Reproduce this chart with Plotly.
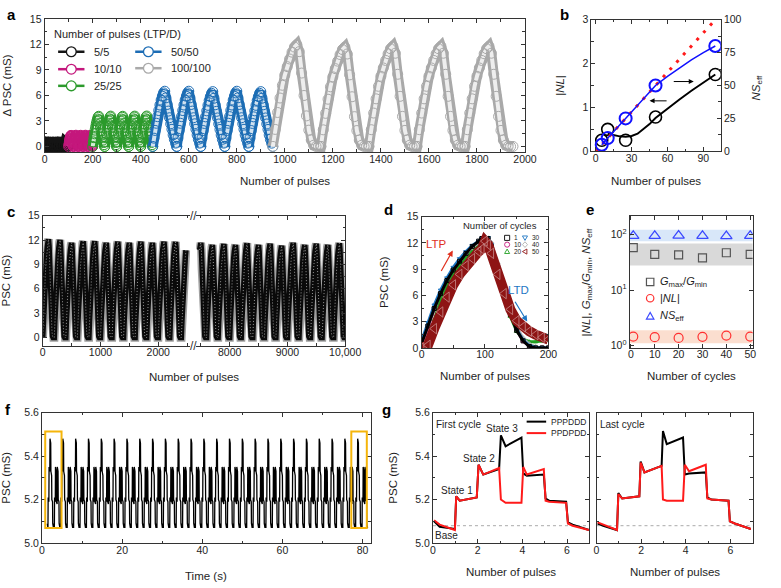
import plotly.graph_objects as go

W, H = 781, 588
FONT = "Liberation Sans, Arial, Helvetica, sans-serif"
TXT = "#1e1e1e"
LC = "#333333"


def PX(p):
    return p / W


def PY(p):
    return 1 - p / H


# ======================= DATA =======================
# (a) cycling with different numbers of pulses
A_LABELS = ["5/5", "10/10", "25/25", "50/50", "100/100"]
A_COLORS = ["#151515", "#c4177c", "#2c9a2c", "#1d6db5", "#a9a9a9"]
A_START = [0, 100, 200, 450, 950]
A_PULSES = [5, 10, 25, 50, 100]
A_PEAKS_55 = [0.50, 0.52, 0.50, 0.51, 0.50, 0.52, 0.50, 0.51, 0.52, 0.50]
A_PEAKS_1010 = [1.30, 1.32, 1.31, 1.32, 1.30]
A_PEAKS_2525 = [3.55, 3.57, 3.55, 3.57, 3.58]
A_PEAKS_5050 = [6.50, 6.50, 6.45, 6.50, 6.45]
A_PEAKS_100100 = [12.0, 11.7, 11.8, 11.8, 11.8]

# normalised LTP / LTD curve shapes read at 0,10,...,100 % of a phase
SHAPE_T = [0.0, 0.1, 0.2, 0.3, 0.4, 0.5, 0.6, 0.7, 0.8, 0.9, 1.0]
LTP_SHORT = [0.00, 0.15, 0.29, 0.42, 0.54, 0.65, 0.75, 0.84, 0.91, 0.97, 1.00]
LTD_SHORT = [1.00, 0.88, 0.76, 0.64, 0.52, 0.41, 0.31, 0.21, 0.13, 0.06, 0.00]
LTP_LONG = [0.00, 0.167, 0.333, 0.475, 0.60, 0.70, 0.783, 0.858, 0.925, 0.975, 1.00]
LTD_LONG = [1.00, 0.93, 0.72, 0.50, 0.30, 0.16, 0.064, 0.012, 0.00, 0.00, 0.00]

# (b) |NL| and NS_eff vs number of pulses
B_PULSES = [5, 10, 25, 50, 100]
B_NL = [0.25, 0.50, 0.25, 0.78, 1.75]
B_NS = [5, 10, 25, 50, 80]
B_NL_FIT_X = [10, 15, 20, 25, 30, 35, 40, 45, 50, 60, 70, 80, 90, 100]
B_NL_FIT = [0.40, 0.37, 0.34, 0.33, 0.35, 0.40, 0.50, 0.62, 0.76, 0.98, 1.18, 1.38, 1.57, 1.75]
B_NS_FIT_X = [5, 10, 25, 50, 60, 70, 80, 90, 100]
B_NS_FIT = [5, 10, 25, 50, 57, 63.5, 69.5, 75, 80]
B_IDEAL_X = [0, 100]
B_IDEAL = [0, 100]

# (c) 10,000 pulses endurance (peak of every 100/100 cycle)
C_LEFT_PEAKS = [12.1, 12.0, 11.65, 11.85, 11.85, 11.65, 11.8, 11.65, 11.8, 11.65, 11.8, 11.75]
C_LEFT_LAST = 11.6
C_RIGHT_PEAKS = [11.65, 11.4, 11.5, 11.4, 11.6, 11.4, 11.55, 11.3, 11.65, 11.4, 11.55, 11.4, 11.6]

# (d) LTP/LTD curves for selected cycles
D_X = [0, 10, 20, 30, 40, 50, 60, 70, 80, 90, 95, 100, 105, 110, 120, 130, 140, 150, 160, 170, 180, 190, 200]
D_C1 = [0.5, 2.5, 4.5, 6.2, 7.7, 8.9, 9.9, 10.8, 11.6, 12.2, 12.5, 12.5, 12.5, 11.6, 9.0, 6.2, 3.8, 2.0, 0.8, 0.15, 0.0, 0.0, 0.0]
D_C10 = [0.4, 2.4, 4.4, 6.1, 7.6, 8.8, 9.8, 10.7, 11.5, 12.1, 12.4, 12.4, 12.4, 11.5, 9.0, 6.2, 3.8, 2.0, 0.8, 0.2, 0.0, 0.0, 0.0]
D_C20 = [0.0, 0.4, 3.2, 5.4, 7.1, 8.4, 9.5, 10.4, 11.2, 11.8, 12.1, 12.3, 12.2, 11.3, 8.8, 6.0, 3.6, 1.9, 1.0, 0.7, 0.7, 0.8, 0.9]
D_C30 = [0.8, 2.9, 4.9, 6.6, 8.0, 9.2, 10.2, 11.0, 11.7, 12.2, 12.5, 12.6, 12.6, 11.8, 9.3, 6.5, 4.0, 2.1, 0.9, 0.25, 0.05, 0.0, 0.0]
D_C40 = [0.6, 2.6, 4.6, 6.3, 7.8, 9.0, 10.0, 10.8, 11.5, 12.0, 12.3, 12.4, 12.5, 12.0, 9.6, 6.8, 4.3, 2.4, 1.1, 0.4, 0.1, 0.0, 0.0]
D_C50 = [0.0, 0.3, 2.2, 4.1, 5.8, 7.2, 8.4, 9.4, 10.2, 11.0, 11.3, 12.2, 11.8, 10.8, 8.4, 6.2, 4.4, 3.1, 2.4, 1.9, 1.5, 1.2, 0.95]

# (e) figures of merit vs cycles
E_CYCLES = [1, 10, 20, 30, 40, 50]
E_GRATIO = [58, 44, 43, 38, 47, 44]
E_NL = [1.46, 1.42, 1.38, 1.44, 1.52, 1.46]
E_NS = [95, 95, 96, 95, 94, 95]
E_BAND_NS = [76, 122]
E_BAND_GR = [27.6, 69]
E_BAND_NL = [1.11, 1.89]

# (f) repeated PPPDDD + PPDPDD sequences
F_T0 = 1.3
F_PERIOD = 3.2
F_N_PERIODS = 25
F_ONSET = [5.09, 5.21, 5.35, 5.48, 5.33, 5.20, 5.09, 5.09, 5.21, 5.35, 5.19, 5.35, 5.20, 5.09]
F_SETTLE = [5.07, 5.19, 5.33, 5.46, 5.31, 5.19, 5.07, 5.07, 5.19, 5.33, 5.18, 5.33, 5.19, 5.07]

# (g) first and last cycle
G1_X = [0.05, 0.3, 0.98, 1.04, 1.2, 1.96, 2.04, 2.25, 2.96, 3.04, 3.25, 3.96, 4.04, 4.2, 4.96, 5.04, 5.2, 5.96, 6.04, 6.25, 6.98]
G1_BLACK = [5.10, 5.075, 5.065, 5.215, 5.195, 5.21, 5.36, 5.315, 5.34, 5.495, 5.445, 5.485, 5.32, 5.31, 5.315, 5.205, 5.195, 5.19, 5.095, 5.085, 5.06]
G1_RED = [5.105, 5.085, 5.06, 5.215, 5.195, 5.21, 5.36, 5.315, 5.345, 5.20, 5.185, 5.185, 5.35, 5.315, 5.34, 5.195, 5.19, 5.185, 5.09, 5.08, 5.06]
G2_X = [0.05, 0.3, 0.92, 0.98, 1.15, 1.92, 1.98, 2.15, 2.92, 2.98, 3.15, 3.88, 3.96, 4.15, 4.9, 4.97, 5.15, 5.92, 5.98, 6.2, 6.92]
G2_BLACK = [5.09, 5.08, 5.06, 5.23, 5.205, 5.215, 5.375, 5.325, 5.355, 5.515, 5.455, 5.485, 5.315, 5.32, 5.325, 5.21, 5.2, 5.195, 5.10, 5.09, 5.065]
G2_RED = [5.095, 5.085, 5.06, 5.225, 5.205, 5.215, 5.37, 5.325, 5.355, 5.20, 5.195, 5.195, 5.36, 5.33, 5.36, 5.205, 5.2, 5.195, 5.10, 5.09, 5.065]
G_BASE = 5.08

# ======================= HELPERS =======================
fig = go.Figure()


def add(**kw):
    kw.setdefault("showlegend", False)
    kw.setdefault("hoverinfo", "skip")
    fig.add_trace(go.Scatter(**kw))


def cycles(start, P, peaks, ltp, ltd):
    xs, ys = [], []
    for k, pk in enumerate(peaks):
        c0 = start + 2 * P * k
        for t, v in zip(SHAPE_T, ltp):
            xs.append(c0 + t * P)
            ys.append(pk * v)
        for t, v in zip(SHAPE_T[1:], ltd[1:]):
            xs.append(c0 + P + t * P)
            ys.append(pk * v)
    return xs, ys


# ======================= (a) =======================
a_peaks = [A_PEAKS_55, A_PEAKS_1010, A_PEAKS_2525, A_PEAKS_5050, A_PEAKS_100100]
for i in range(5):
    ltp, ltd = (LTP_LONG, LTD_LONG) if A_PULSES[i] == 100 else (LTP_SHORT, LTD_SHORT)
    xs, ys = cycles(A_START[i], A_PULSES[i], a_peaks[i], ltp, ltd)
    col = A_COLORS[i]
    add(x=xs, y=ys, mode="lines", line=dict(color=col, width=10), xaxis="x", yaxis="y")
    add(x=xs, y=ys, mode="lines", line=dict(color="white", width=4), opacity=0.8, xaxis="x", yaxis="y")
    add(x=xs, y=ys, mode="markers", xaxis="x", yaxis="y",
        marker=dict(symbol="circle-open", size=10, color=col, line=dict(width=1.0)))

# ======================= (b) =======================
add(x=B_IDEAL_X, y=B_IDEAL, mode="lines", line=dict(color="#ff1a1a", width=3, dash="3px,7px"), xaxis="x2", yaxis="y3")
add(x=B_NL_FIT_X, y=B_NL_FIT, mode="lines", line=dict(color="black", width=2), xaxis="x2", yaxis="y2")
add(x=B_NS_FIT_X, y=B_NS_FIT, mode="lines", line=dict(color="#1010ff", width=1.5), xaxis="x2", yaxis="y3")
add(x=B_PULSES, y=B_NL, mode="markers", xaxis="x2", yaxis="y2",
    marker=dict(symbol="circle-open", size=12, color="black", line=dict(width=1.6)))
add(x=B_PULSES, y=B_NS, mode="markers", xaxis="x2", yaxis="y3",
    marker=dict(symbol="circle-open", size=12, color="#1010ff", line=dict(width=2)))

# ======================= (c) =======================
cx, cy = cycles(0, 100, C_LEFT_PEAKS, LTP_LONG, LTD_LONG)
for t, v in zip(SHAPE_T[:9], LTP_LONG[:9]):
    cx.append(2400 + 100 * t)
    cy.append(C_LEFT_LAST * v)

rx, ry = [], []
for t, v in zip(SHAPE_T[8:], LTP_LONG[8:]):
    rx.append(7400 + 100 * t)
    ry.append(C_RIGHT_PEAKS[0] * v)
for t, v in zip(SHAPE_T[1:], LTD_LONG[1:]):
    rx.append(7500 + 100 * t)
    ry.append(C_RIGHT_PEAKS[0] * v)
x2_, y2_ = cycles(7600, 100, C_RIGHT_PEAKS[1:], LTP_LONG, LTD_LONG)
rx += x2_
ry += y2_
for xs, ys, xa, ya in [(cx, cy, "x3", "y4"), (rx, ry, "x4", "y5")]:
    add(x=xs, y=ys, mode="lines", line=dict(color="#a0a0a0", width=8.5), xaxis=xa, yaxis=ya)
    add(x=xs, y=ys, mode="lines", line=dict(color="#0a0a0a", width=5.5), xaxis=xa, yaxis=ya)
    add(x=xs, y=ys, mode="lines", line=dict(color="#bbbbbb", width=1, dash="1px,2px"), opacity=0.8,
        xaxis=xa, yaxis=ya)

# ======================= (d) =======================
d_series = [
    (D_C10, "#c4177c", "circle-open"),
    (D_C20, "#22a022", "triangle-up-open"),
    (D_C40, "#b0b0b0", "diamond-open"),
    (D_C30, "#1f77c4", "triangle-down-open"),
    (D_C1, "#000000", "square-open"),
]
for ys, col, sym in d_series:
    add(x=D_X, y=ys, mode="lines+markers", xaxis="x5", yaxis="y6",
        line=dict(color=col, width=3), marker=dict(symbol=sym, size=4, color=col, line=dict(width=1)))
add(x=D_X, y=D_C50, mode="lines", xaxis="x5", yaxis="y6", line=dict(color="#8e1414", width=10))
add(x=D_X, y=D_C50, mode="markers", xaxis="x5", yaxis="y6", opacity=0.5,
    marker=dict(symbol="triangle-left-open", size=9, color="white", line=dict(width=0.8)))

# ======================= (e) =======================
add(x=E_CYCLES, y=E_GRATIO, mode="markers", xaxis="x6", yaxis="y7",
    marker=dict(symbol="square-open", size=8, color="#555555", line=dict(width=1.2)))
add(x=E_CYCLES, y=E_NL, mode="markers", xaxis="x6", yaxis="y7",
    marker=dict(symbol="circle-open", size=9, color="#ff3030", line=dict(width=1.2)))
add(x=E_CYCLES, y=E_NS, mode="markers", xaxis="x6", yaxis="y7",
    marker=dict(symbol="triangle-up-open", size=10, color="#3a48ff", line=dict(width=1.2)))

# ======================= (f) =======================
fx, fy = [], []
dt = F_PERIOD / len(F_ONSET)
for k in range(F_N_PERIODS):
    for j, (a_, b_) in enumerate(zip(F_ONSET, F_SETTLE)):
        t = F_T0 + k * F_PERIOD + j * dt
        fx += [t, t + 0.8 * dt]
        fy += [a_, b_]
add(x=fx, y=fy, mode="lines", line=dict(color="black", width=1.3), xaxis="x7", yaxis="y8")

# ======================= (g) =======================
add(x=G1_X, y=G1_BLACK, mode="lines", line=dict(color="black", width=2), xaxis="x8", yaxis="y9")
add(x=G1_X, y=G1_RED, mode="lines", line=dict(color="#ff1a1a", width=2), xaxis="x8", yaxis="y9")
add(x=G2_X, y=G2_BLACK, mode="lines", line=dict(color="black", width=2), xaxis="x9", yaxis="y10")
add(x=G2_X, y=G2_RED, mode="lines", line=dict(color="#ff1a1a", width=2), xaxis="x9", yaxis="y10")

# ======================= AXES =======================
TICKF = dict(family=FONT, size=10.5, color=TXT)
TITF = dict(family=FONT, size=11.5, color=TXT)


def axis(domain, rng, anchor, dtick=None, minor=None, title=None, mirror="ticks", **kw):
    d = dict(domain=domain, range=rng, anchor=anchor, showline=True, linecolor=LC, linewidth=1,
             mirror=mirror, ticks="inside", ticklen=4, tickwidth=1, tickcolor=LC, tickfont=TICKF,
             showgrid=False, zeroline=False)
    if dtick is not None:
        d["dtick"] = dtick
        d["tick0"] = 0
    if minor is not None:
        d["minor"] = dict(ticks="inside", ticklen=2.5, tickwidth=1, tickcolor=LC, dtick=minor, tick0=0,
                          showgrid=False)
    if title is not None:
        d["title"] = dict(text=title, font=TITF)
    d.update(kw)
    return d


def xaxis(*a, **kw):
    kw.setdefault("ticklabelstandoff", -3)
    return axis(*a, **kw)


ya_dom = [PY(149), PY(13.3)]
yb_dom = [PY(148.3), PY(14)]
yc_dom = [PY(346.7), PY(214)]
yd_dom = [PY(349), PY(215)]
ye_dom = [PY(349), PY(214.3)]
yf_dom = [PY(548.3), PY(415)]

layout_axes = dict(
    xaxis=xaxis([PX(42.7), PX(535)], [0, 2000], "y", 200, 100),
    yaxis=axis(ya_dom, [-0.65, 15], "x", 3, 1.5, "Δ PSC (mS)"),
    xaxis2=xaxis([PX(603), PX(735.7)], [-3.7, 104.6], "y2", None, 15, tickvals=[0, 30, 60, 90]),
    yaxis2=axis(yb_dom, [0, 3], "x2", 1, 0.5, "|<i>NL</i>|", mirror=False),
    yaxis3=axis(yb_dom, [0, 100], "x2", 25, 12.5, None, mirror=False, overlaying="y2", side="right"),
    xaxis3=xaxis([PX(40.7), PX(192)], [0, 2556], "y4", None, 500, tickvals=[0, 1000, 2000]),
    yaxis4=axis(yc_dom, [-1, 15], "x3", 3, 1.5, "PSC (mS)", mirror=False),
    xaxis4=xaxis([PX(198), PX(350.7)], [7420, 10000], "y5", None, 500,
                 tickvals=[8000, 9000, 10000], ticktext=["8000", "9000", "10,000"]),
    yaxis5=axis(yc_dom, [-1, 15], "x4", 3, 1.5, None, mirror=False, side="right", showticklabels=False),
    xaxis5=xaxis([PX(429), PX(559)], [0, 200], "y6", 100, 50),
    yaxis6=axis(yd_dom, [0, 15], "x5", 3, 1.5, "PSC (mS)"),
    xaxis6=xaxis([PX(642.3), PX(768.3)], [-0.5, 51], "y7", 10, None),
    yaxis7=axis(ye_dom, [-0.04, 2.335], "x6", None, None, None,
                type="log", tickvals=[1, 10, 100],
                ticktext=["10<sup>0</sup>", "10<sup>1</sup>", "10<sup>2</sup>"]),
    xaxis7=xaxis([PX(40), PX(376.7)], [0, 82], "y8", 20, 10),
    yaxis8=axis(yf_dom, [5.0, 5.6], "x7", 0.2, 0.1, "PSC (mS)", tickformat=".1f"),
    xaxis8=xaxis([PX(440.7), PX(601)], [0, 7], "y9", 2, 1),
    yaxis9=axis(yf_dom, [5.0, 5.6], "x8", 0.2, 0.1, "PSC (mS)", tickformat=".1f"),
    xaxis9=xaxis([PX(608.3), PX(768.3)], [0, 7], "y10", 2, 1),
    yaxis10=axis(yf_dom, [5.0, 5.6], "x9", 0.2, 0.1, None, tickformat=".1f", showticklabels=False),
)

# ======================= ANNOTATIONS / SHAPES =======================
ann = []
shapes = []


def text(px_, py_, s, size=11, color=TXT, xanchor="center", family=FONT, **kw):
    ann.append(dict(x=PX(px_), y=PY(py_), xref="paper", yref="paper", text=s, showarrow=False,
                    xanchor=xanchor, yanchor="middle", font=dict(family=family, size=size, color=color), **kw))


def sym(kind, cx_, cy_, r, color, lw=1.0, fill="white"):
    if kind in ("square", "circle"):
        return dict(type="rect" if kind == "square" else "circle", xref="paper", yref="paper",
                    x0=PX(cx_ - r), x1=PX(cx_ + r), y0=PY(cy_ + r), y1=PY(cy_ - r),
                    line=dict(color=color, width=lw), fillcolor=fill)
    pts = {
        "up": [(-1, 0.75), (1, 0.75), (0, -1)],
        "down": [(-1, -0.75), (1, -0.75), (0, 1)],
        "left": [(0.75, -1), (0.75, 1), (-1, 0)],
        "diamond": [(0, -1.1), (1, 0), (0, 1.1), (-1, 0)],
    }[kind]
    path = "M " + " L ".join(f"{PX(cx_ + dx * r):.5f},{PY(cy_ + dy * r):.5f}" for dx, dy in pts) + " Z"
    return dict(type="path", xref="paper", yref="paper", path=path, line=dict(color=color, width=lw),
                fillcolor=fill)


def hline(x0, x1, y, color, w):
    return dict(type="line", xref="paper", yref="paper", x0=PX(x0), x1=PX(x1), y0=PY(y), y1=PY(y),
                line=dict(color=color, width=w))


# panel letters
for L, (lx, ly) in zip("abcdefg", [(8.3, 8.3), (575, 8.3), (8.3, 210), (395, 208), (601.7, 208),
                                   (5, 411.7), (393, 411.7)]):
    text(lx, ly, f"<b>{L}</b>", size=15, color="black", family="Liberation Sans, Arial")

# axis titles placed as text
for s, tx, ty in [("Number of pulses", 288.9, 179), ("Number of pulses", 669.3, 179),
                  ("Number of pulses", 195.7, 379), ("Number of pulses", 494, 378),
                  ("Number of cycles", 705.3, 378), ("Time (s)", 208.3, 581.5),
                  ("Number of pulses", 520.9, 578.3), ("Number of pulses", 688.3, 578.3)]:
    text(tx, ty, s, size=11.5)
text(773, 83, "<i>NS</i><sub>eff</sub>", size=11.5, textangle=-90)
text(598, 281.7, "|<i>NL</i>|, <i>G</i><sub>max</sub>/<i>G</i><sub>min</sub>, <i>NS</i><sub>eff</sub>",
     size=11.5, textangle=-90)

# (a) legend
text(50.7, 28.3, "Number of pulses (LTP/D)", size=11, xanchor="left")
a_leg = [(70, 46.7), (70, 64.5), (70, 81.5), (149, 46.7), (149, 63.5)]
for i, (lx, ly) in enumerate(a_leg):
    shapes.append(hline(lx - 13.5, lx + 13.5, ly, A_COLORS[i], 2.5))
    shapes.append(sym("circle", lx, ly, 5, A_COLORS[i], 1.3))
    text(lx + 21.5, ly, A_LABELS[i], size=11, xanchor="left")

# (b) arrows
for (hx, hy, tx, ty) in [(82, 1.59, 64, 1.59), (45, 1.15, 60.5, 1.15)]:
    ann.append(dict(x=hx, y=hy, ax=tx, ay=ty, xref="x2", yref="y2", axref="x2", ayref="y2", text="",
                    showarrow=True, arrowhead=2, arrowsize=1, arrowwidth=1, arrowcolor="black"))

# (c) break marks
text(195, 214, "//", size=12, color=LC)
text(195, 346.7, "//", size=12, color=LC)

# (d) LTP / LTD labels, arrows, legend
ann.append(dict(x=23.5, y=11.9, xref="x5", yref="y6", text="LTP", showarrow=False,
                font=dict(family=FONT, size=11.5, color="#e0301e")))
ann.append(dict(x=49.2, y=11.14, ax=29.7, ay=8.62, xref="x5", yref="y6", axref="x5", ayref="y6", text="",
                showarrow=True, arrowhead=2, arrowsize=1, arrowwidth=1.2, arrowcolor="#e0301e"))
ann.append(dict(x=152.8, y=6.64, xref="x5", yref="y6", text="LTD", showarrow=False,
                font=dict(family=FONT, size=11.5, color="#1f77c4")))
ann.append(dict(x=166.6, y=3.0, ax=146, ay=5.44, xref="x5", yref="y6", axref="x5", ayref="y6", text="",
                showarrow=True, arrowhead=2, arrowsize=1, arrowwidth=1.2, arrowcolor="#1f77c4"))
text(509.3, 224, "Number of cycles", size=9.5)
d_leg = [("square", "#000000", "1", 516.7, 236.7), ("circle", "#c4177c", "10", 516.7, 243.6),
         ("up", "#22a022", "20", 516.7, 250.7), ("down", "#1f77c4", "30", 535, 236.7),
         ("diamond", "#b0b0b0", "40", 535, 243.6), ("left", "#8e1414", "50", 535, 250.7)]
for kind, col, lab, lx, ly in d_leg:
    shapes.append(sym(kind, lx, ly, 2.6, col, 0.9))
    text(lx + 5, ly, lab, size=6.5, xanchor="left")

# (e) bands and legend
for (lo, hi), col in [(E_BAND_NS, "rgba(190,215,245,0.6)"), (E_BAND_GR, "rgba(170,170,170,0.45)"),
                      (E_BAND_NL, "rgba(248,200,175,0.6)")]:
    shapes.append(dict(type="rect", xref="x6 domain", yref="y7", x0=0, x1=1, y0=lo, y1=hi,
                       line=dict(width=0), fillcolor=col, layer="below"))
e_leg = [("square", "#555555", "<i>G</i><sub>max</sub>/<i>G</i><sub>min</sub>", 281.7),
         ("circle", "#ff3030", "|<i>NL</i>|", 298.3), ("up", "#3a48ff", "<i>NS</i><sub>eff</sub>", 316.7)]
for kind, col, lab, ly in e_leg:
    shapes.append(sym(kind, 663.3, ly, 3.8, col, 1.2))
    text(671, ly, lab, size=11, xanchor="left")

# (f) highlight boxes
for x0, x1 in [(0.8, 4.87), (77.2, 81.07)]:
    shapes.append(dict(type="rect", xref="x7", yref="y8", x0=x0, x1=x1, y0=5.07, y1=5.513,
                       line=dict(color="#f5b50a", width=2)))

# (g) base lines, labels, legend
for xr, yr in [("x8 domain", "y9"), ("x9 domain", "y10")]:
    shapes.append(dict(type="line", xref=xr, yref=yr, x0=0, x1=1, y0=G_BASE, y1=G_BASE,
                       line=dict(color="#aaaaaa", width=1, dash="dot"), layer="below"))
for s, gx, gy in [("First cycle", 1.13, 5.545), ("State 1", 1.06, 5.243), ("State 2", 2.08, 5.39),
                  ("State 3", 3.1, 5.525), ("Base", 0.62, 5.034)]:
    ann.append(dict(x=gx, y=gy, xref="x8", yref="y9", text=s, showarrow=False,
                    font=dict(family=FONT, size=10, color=TXT)))
ann.append(dict(x=1.17, y=5.545, xref="x9", yref="y10", text="Last cycle", showarrow=False,
                font=dict(family=FONT, size=10, color=TXT)))
shapes.append(hline(536.7, 556.7, 424.3, "black", 2))
shapes.append(hline(536.7, 556.7, 436, "#ff1a1a", 2))
text(560, 424.3, "PPPDDD", size=8.5, xanchor="left")
text(560, 436, "PPDPDD", size=8.5, xanchor="left")

fig.update_layout(
    width=W, height=588, autosize=False,
    margin=dict(l=0, r=0, t=0, b=0),
    paper_bgcolor="white", plot_bgcolor="white",
    showlegend=False,
    font=dict(family=FONT, color=TXT),
    annotations=ann, shapes=shapes,
    **layout_axes,
)

fig.write_html(
    "out.html",
    config={"displayModeBar": False},
    post_script="document.body.style.margin='0px';document.body.style.padding='0px';"
                "document.documentElement.style.overflow='hidden';",
)
